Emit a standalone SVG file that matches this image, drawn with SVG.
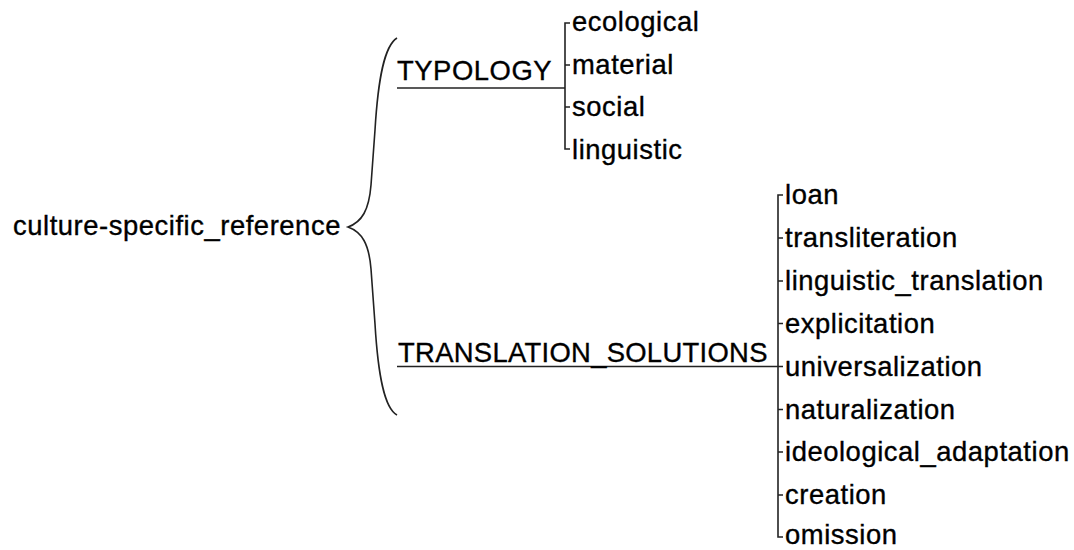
<svg xmlns="http://www.w3.org/2000/svg" width="1074" height="550" viewBox="0 0 1074 550">
<style>
text{font-family:"Liberation Sans",Arial,sans-serif;font-size:27.4px;letter-spacing:0.55px;fill:#000;stroke:#000;stroke-width:0.35}
.ln{stroke:#222;stroke-width:1.6;fill:none}
</style>
<rect width="1074" height="550" fill="#fff"/>
<g id="connectors">
<path class="ln" d="M397,38 C384,46 378,80 375,130 L371,185 C369,210 362,222 348,227 C362,232 369,244 371,269 L375,324 C378,374 384,408 397,415"/>
<path class="ln" d="M397,88 H565"/>
<path class="ln" d="M570,23 H565 V149 H570 M565,65 H570 M565,107 H570"/>
<path class="ln" d="M397,366.5 H778"/>
<path class="ln" d="M783,195 H778 V537 H783 M778,238 H783 M778,281 H783 M778,323.5 H783 M778,366.5 H783 M778,409.5 H783 M778,452 H783 M778,495 H783"/>
</g>
<g id="root"><text x="13" y="235">culture-specific_reference</text></g>
<g id="typology"><text x="397" y="80">TYPOLOGY</text></g>
<g id="translation_solutions"><text x="398" y="362" textLength="370" lengthAdjust="spacing">TRANSLATION_SOLUTIONS</text></g>
<g id="ecological"><text x="572" y="31">ecological</text></g>
<g id="material"><text x="572" y="74">material</text></g>
<g id="social"><text x="572" y="116">social</text></g>
<g id="linguistic"><text x="572" y="159">linguistic</text></g>
<g id="loan"><text x="785" y="204">loan</text></g>
<g id="transliteration"><text x="785" y="247">transliteration</text></g>
<g id="linguistic_translation"><text x="785" y="290">linguistic_translation</text></g>
<g id="explicitation"><text x="785" y="332.5">explicitation</text></g>
<g id="universalization"><text x="785" y="375.5">universalization</text></g>
<g id="naturalization"><text x="785" y="418.5">naturalization</text></g>
<g id="ideological_adaptation"><text x="785" y="461">ideological_adaptation</text></g>
<g id="creation"><text x="785" y="504">creation</text></g>
<g id="omission"><text x="785" y="544">omission</text></g>
</svg>
